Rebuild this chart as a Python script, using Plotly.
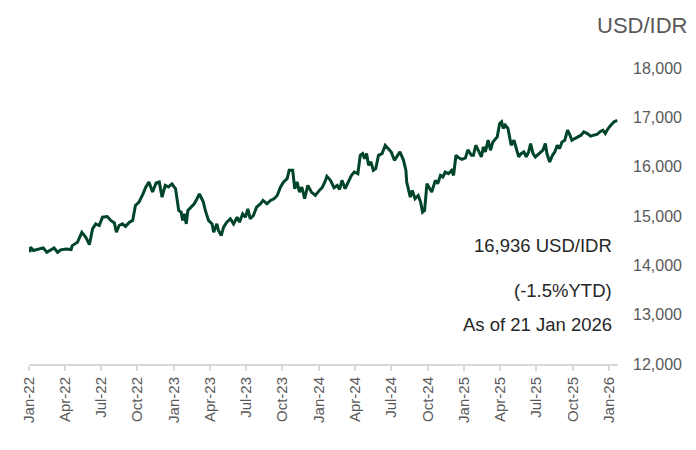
import plotly.graph_objects as go

dates = [
    "2022-01-03", "2022-01-05", "2022-01-12", "2022-01-24", "2022-02-06", "2022-02-15",
    "2022-02-27", "2022-03-05", "2022-03-14", "2022-03-22", "2022-04-04", "2022-04-17",
    "2022-04-20", "2022-05-03", "2022-05-14", "2022-05-24", "2022-06-02", "2022-06-10",
    "2022-06-18", "2022-06-27", "2022-07-05", "2022-07-17", "2022-07-26", "2022-08-04",
    "2022-08-09", "2022-08-16", "2022-08-24", "2022-09-01", "2022-09-11", "2022-09-19",
    "2022-09-26", "2022-10-05", "2022-10-15", "2022-10-22", "2022-10-30", "2022-11-08",
    "2022-11-17", "2022-11-25", "2022-12-02", "2022-12-10", "2022-12-18", "2022-12-27",
    "2023-01-05", "2023-01-13", "2023-01-19", "2023-01-23", "2023-01-27", "2023-02-01",
    "2023-02-05", "2023-02-13", "2023-02-21", "2023-02-28", "2023-03-06", "2023-03-12",
    "2023-03-16", "2023-03-21", "2023-03-29", "2023-04-07", "2023-04-11", "2023-04-19",
    "2023-04-23", "2023-04-30", "2023-05-06", "2023-05-14", "2023-05-23", "2023-05-31",
    "2023-06-09", "2023-06-15", "2023-06-23", "2023-06-30", "2023-07-06", "2023-07-12",
    "2023-07-20", "2023-07-28", "2023-08-07", "2023-08-13", "2023-08-23", "2023-09-01",
    "2023-09-10", "2023-09-18", "2023-09-26", "2023-10-04", "2023-10-13", "2023-10-18",
    "2023-10-27", "2023-11-01", "2023-11-07", "2023-11-13", "2023-11-19", "2023-11-26",
    "2023-12-04", "2023-12-13", "2023-12-23", "2024-01-02", "2024-01-09", "2024-01-16",
    "2024-01-21", "2024-01-30", "2024-02-08", "2024-02-16", "2024-02-22", "2024-02-28",
    "2024-03-07", "2024-03-15", "2024-03-23", "2024-03-30", "2024-04-08", "2024-04-14",
    "2024-04-20", "2024-04-25", "2024-04-30", "2024-05-05", "2024-05-11", "2024-05-17",
    "2024-05-23", "2024-05-30", "2024-06-08", "2024-06-16", "2024-06-23", "2024-07-01",
    "2024-07-09", "2024-07-17", "2024-07-23", "2024-08-01", "2024-08-07", "2024-08-09",
    "2024-08-13", "2024-08-18", "2024-08-23", "2024-08-30", "2024-09-07", "2024-09-13",
    "2024-09-18", "2024-09-23", "2024-09-29", "2024-10-05", "2024-10-11", "2024-10-20",
    "2024-10-26", "2024-11-02", "2024-11-08", "2024-11-14", "2024-11-22", "2024-11-30",
    "2024-12-05", "2024-12-11", "2024-12-18", "2024-12-26", "2025-01-04", "2025-01-10",
    "2025-01-19", "2025-01-24", "2025-01-30", "2025-02-07", "2025-02-13", "2025-02-18",
    "2025-02-23", "2025-03-02", "2025-03-08", "2025-03-14", "2025-03-20", "2025-03-25",
    "2025-03-31", "2025-04-05", "2025-04-09", "2025-04-14", "2025-04-21", "2025-04-25",
    "2025-04-29", "2025-05-06", "2025-05-12", "2025-05-18", "2025-05-24", "2025-05-31",
    "2025-06-06", "2025-06-12", "2025-06-17", "2025-06-23", "2025-06-29", "2025-07-09",
    "2025-07-18", "2025-07-24", "2025-07-28", "2025-08-04", "2025-08-11", "2025-08-17",
    "2025-08-23", "2025-08-29", "2025-09-04", "2025-09-11", "2025-09-18", "2025-09-24",
    "2025-09-29", "2025-10-06", "2025-10-14", "2025-10-22", "2025-10-29", "2025-11-07",
    "2025-11-15", "2025-11-23", "2025-12-02", "2025-12-08", "2025-12-16", "2025-12-22",
    "2025-12-29", "2026-01-05", "2026-01-13", "2026-01-21",
]

usd_idr = [
    14264, 14366, 14300, 14333, 14353, 14264,
    14333, 14353, 14264, 14313, 14333, 14320,
    14400, 14467, 14670, 14570, 14420, 14740,
    14840, 14807, 14976, 14990, 14910, 14860,
    14670, 14807, 14840, 14790, 14875, 14910,
    15214, 15280, 15450, 15585, 15690, 15485,
    15670, 15690, 15383, 15620, 15590, 15650,
    15550, 15112, 15078, 14910, 15044, 14840,
    15112, 15180, 15248, 15350, 15450, 15350,
    15282, 15112, 14910, 14840, 14670, 14840,
    14705, 14604, 14773, 14875, 14943, 14840,
    14976, 14875, 15044, 14976, 15146, 14943,
    15010, 15180, 15248, 15315, 15248, 15315,
    15350, 15417, 15585, 15690, 15757, 15925,
    15925, 15553, 15690, 15485, 15585, 15350,
    15620, 15485, 15417, 15519, 15574, 15690,
    15804, 15722, 15574, 15620, 15540, 15722,
    15553, 15690, 15824, 15892, 15858, 16231,
    16265, 16163, 16265, 16027, 16095, 15925,
    15960, 16231, 16265, 16434, 16367, 16299,
    16129, 16231, 16299, 16129, 15925, 15690,
    15553, 15383, 15519, 15350, 15417, 15282,
    15078, 15112, 15655, 15553, 15485, 15722,
    15655, 15824, 15790, 15892, 15858, 15925,
    15824, 16231, 16180, 16150, 16180, 16340,
    16231, 16230, 16434, 16299, 16197, 16400,
    16299, 16536, 16333, 16502, 16570, 16604,
    16875, 16909, 16774, 16841, 16774, 16570,
    16434, 16536, 16367, 16197, 16265, 16299,
    16197, 16299, 16468, 16265, 16197, 16265,
    16333, 16468, 16265, 16095, 16231, 16299,
    16434, 16367, 16502, 16536, 16739, 16638,
    16536, 16570, 16604, 16638, 16705, 16672,
    16618, 16638, 16658, 16705, 16739, 16672,
    16774, 16841, 16909, 16936,
]

y_ticks = [12000, 13000, 14000, 15000, 16000, 17000, 18000]
y_tick_text = ["12,000", "13,000", "14,000", "15,000", "16,000", "17,000", "18,000"]

unit_label = "USD/IDR"
note_lines = ["16,936 USD/IDR", "(-1.5%YTD)", "As of 21 Jan 2026"]

FONT = "Arial, Liberation Sans, sans-serif"
GREY = "#595959"

fig = go.Figure()
fig.add_trace(go.Scatter(
    x=dates, y=usd_idr, mode="lines",
    line=dict(color="#00452a", width=3),
    showlegend=False, hoverinfo="skip",
))

fig.update_layout(
    width=696, height=450,
    margin=dict(l=21, r=86, t=60, b=94),
    paper_bgcolor="white", plot_bgcolor="white",
    font=dict(family=FONT, color=GREY),
    xaxis=dict(
        type="date",
        range=["2022-01-01", "2026-01-23"],
        tick0="2022-01-01", dtick="M3", tickformat="%b-%y",
        tickangle=-90,
        tickfont=dict(size=15, color=GREY, family=FONT),
        showgrid=False, zeroline=False,
        showline=True, linecolor="#d9d9d9", linewidth=2,
        ticks="outside", ticklen=5, tickcolor="#d9d9d9", tickwidth=1.5,
    ),
    yaxis=dict(
        side="right",
        range=[12000, 18000],
        tickvals=y_ticks, ticktext=y_tick_text,
        tickfont=dict(size=16, color=GREY, family=FONT),
        showgrid=False, zeroline=False, showline=False,
        ticks="", ticklabelstandoff=14,
    ),
)

fig.add_annotation(
    text=unit_label, xref="paper", yref="paper",
    x=1.12, y=1.1436, xanchor="right", yanchor="middle",
    showarrow=False, font=dict(size=22, color=GREY, family=FONT),
)

note_y = [0.399, 0.247, 0.135]
for txt, yy in zip(note_lines, note_y):
    fig.add_annotation(
        text=txt, xref="paper", yref="paper",
        x=0.993, y=yy, xanchor="right", yanchor="middle",
        showarrow=False, font=dict(size=18.5, color="#262626", family=FONT),
    )

fig.write_html("out.html")
